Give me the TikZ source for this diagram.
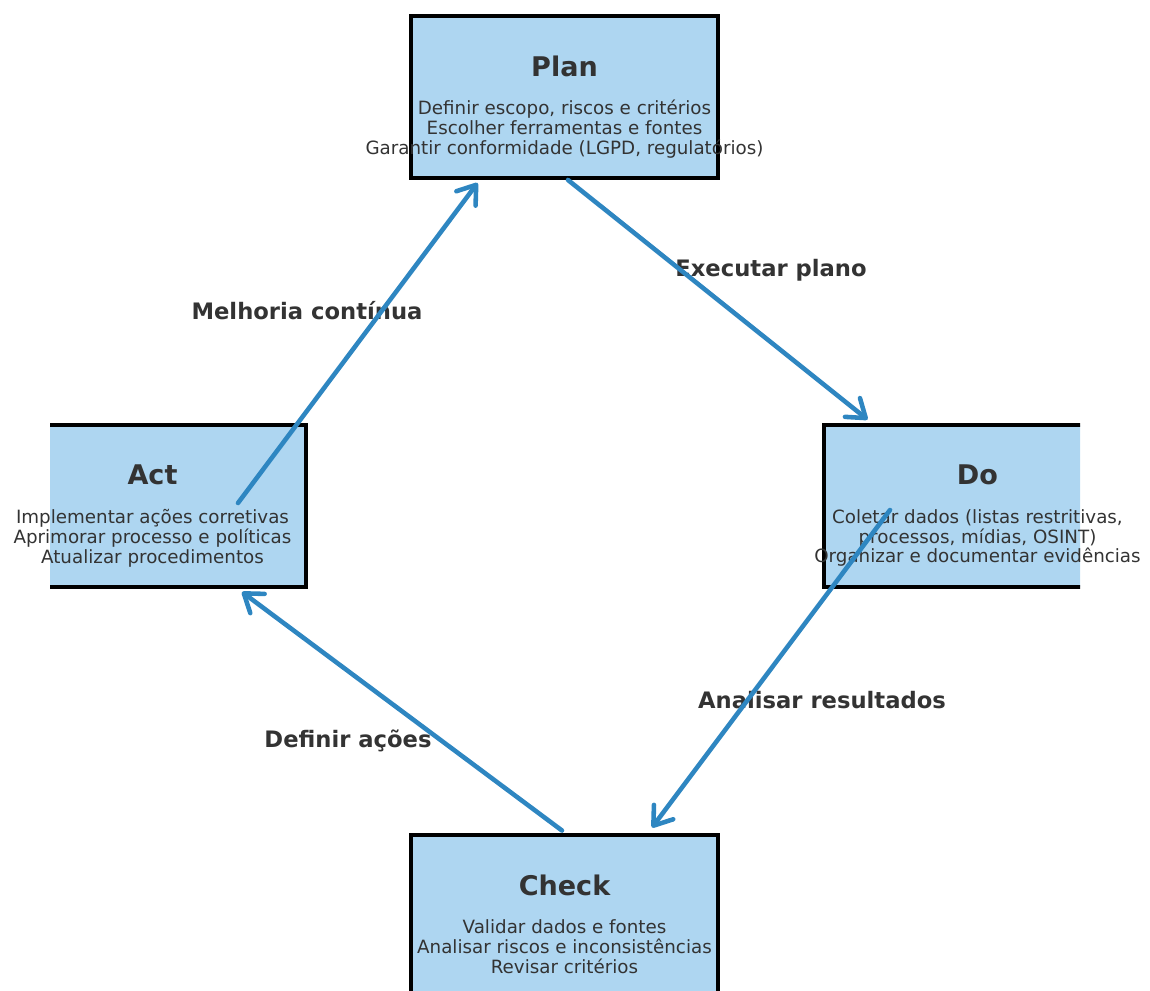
\documentclass[tikz,border=0pt]{standalone}
\usepackage{fontspec}
\setmainfont{DejaVu Sans}
\usetikzlibrary{arrows.meta,calc,positioning}
\definecolor{boxfill}{HTML}{AED6F1}
\definecolor{flow}{HTML}{2E86C1}
\definecolor{ink}{HTML}{333333}

\begin{document}
\begin{tikzpicture}[x=0.02cm, y=-0.02cm,
    stage/.style={draw=black, line width=2pt, fill=boxfill, minimum width=6.14cm, minimum height=3.24cm, inner sep=0pt, outer sep=0pt},
    stagetitle/.style={text=ink, font=\fontsize{15.4}{18}\selectfont\bfseries},
    stagetext/.style={text=ink, align=center, inner sep=0pt, font=\fontsize{10.4}{11.34}\selectfont},
    steplabel/.style={text=ink, font=\fontsize{12.9}{15}\selectfont\bfseries},
    flowarrow/.style={flow, line width=2.6pt, line cap=round, -{Straight Barb[length=3.4mm,width=4.8mm,round]}}]
    \useasboundingbox (0,0) rectangle (1150,991);
    \begin{scope}
        \clip (50,0) rectangle (1080,991);
        \node[stage] (plan) at (564.5,97) {};
        \node[stage] (do) at (977.5,506) {};
        \node[stage] (check) at (564.5,916) {};
        \node[stage] (act) at (152.5,506) {};
    \end{scope}
    \node[stagetitle] (plantitle) at ($(plan.center)+(0,-31)$) {Plan};
    \node[stagetext] (plantext) at ($(plan.center)+(0,32)$) {Definir escopo, riscos e critérios\\Escolher ferramentas e fontes\\Garantir conformidade (LGPD, regulatórios)};
    \node[stagetitle] (dotitle) at ($(do.center)+(0,-31)$) {Do};
    \node[stagetext] (dotext) at ($(do.center)+(0,32)$) {Coletar dados (listas restritivas,\\processos, mídias, OSINT)\\Organizar e documentar evidências};
    \node[stagetitle] (checktitle) at ($(check.center)+(0,-31)$) {Check};
    \node[stagetext] (checktext) at ($(check.center)+(0,31)$) {Validar dados e fontes\\Analisar riscos e inconsistências\\Revisar critérios};
    \node[stagetitle] (acttitle) at ($(act.center)+(0,-31)$) {Act};
    \node[stagetext] (acttext) at ($(act.center)+(0,32)$) {Implementar ações corretivas\\Aprimorar processo e políticas\\Atualizar procedimentos};
    \node[steplabel] (lbldo) at (771,270) {Executar plano};
    \node[steplabel] (lblcheck) at (822,700) {Analisar resultados};
    \node[steplabel] (lblact) at (348,741) {Definir ações};
    \node[steplabel] (lblplan) at (307,311) {Melhoria contínua};
    \draw[flowarrow] ($(plan.south)+(3.5,2)$) -- ($(do.north west)+(43.5,-5.5)$);
    \draw[flowarrow] ($(do.center)+(-87.5,4)$) -- ($(check.north)+(87.5,-7.5)$);
    \draw[flowarrow] ($(check.north)+(-2.5,-4.5)$) -- ($(act.south)+(89.5,5)$);
    \draw[flowarrow] ($(act.center)+(85.5,-3)$) -- ($(plan.south west)+(66.5,5)$);
\end{tikzpicture}
\end{document}
